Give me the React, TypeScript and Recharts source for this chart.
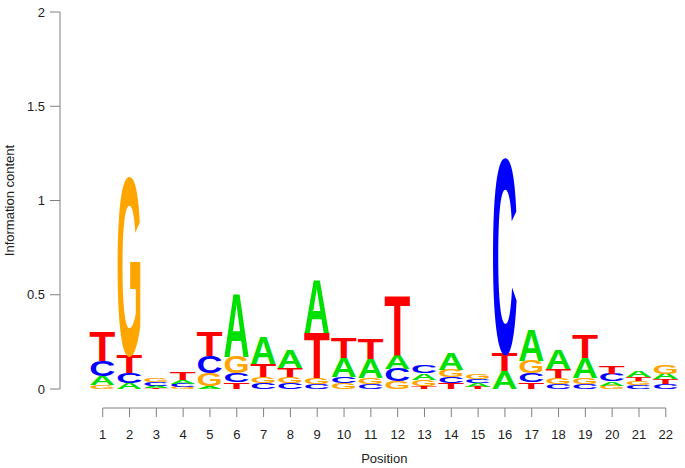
import React from 'react';
import { BarChart, Bar, XAxis, YAxis, ReferenceLine } from 'recharts';

// Sequence logo – information content per position (bits)
const positions = [1, 2, 3, 4, 5, 6, 7, 8, 9, 10, 11, 12, 13, 14, 15, 16, 17, 18, 19, 20, 21, 22];
const heightA = [0.05, 0.03, 0.012, 0.02, 0.015, 0.335, 0.14, 0.095, 0.28, 0.1, 0.1, 0.075, 0.035, 0.088, 0.02, 0.095, 0.16, 0.1, 0.105, 0.022, 0.03, 0.03];
const heightC = [0.08, 0.055, 0.02, 0.018, 0.09, 0.05, 0.03, 0.03, 0.028, 0.033, 0.028, 0.065, 0.04, 0.032, 0.022, 1.02, 0.05, 0.028, 0.028, 0.038, 0.02, 0.025];
const heightG = [0.02, 0.93, 0.022, 0.01, 0.07, 0.085, 0.033, 0.032, 0.03, 0.03, 0.03, 0.04, 0.033, 0.04, 0.025, 0.0, 0.065, 0.03, 0.032, 0.018, 0.021, 0.05];
const heightT = [0.155, 0.095, 0.006, 0.04, 0.13, 0.035, 0.07, 0.05, 0.24, 0.11, 0.105, 0.31, 0.015, 0.03, 0.01, 0.097, 0.035, 0.05, 0.125, 0.04, 0.022, 0.027];
const yTicks = [0, 0.5, 1, 1.5, 2];

const letterColors: Record<string, string> = {
  A: '#00e000',
  C: '#0000ff',
  G: '#ffa500',
  T: '#ff0000',
};

const X_DOMAIN: [number, number] = [-0.593, 22.53];
const CAP_HEIGHT = 0.69;
const FONT = '"Liberation Sans", Arial, Helvetica, sans-serif';

// each column: letters sorted smallest at bottom, largest on top
const data = positions.map((pos, i) => {
  const letters = [
    { l: 'A', h: heightA[i] },
    { l: 'C', h: heightC[i] },
    { l: 'G', h: heightG[i] },
    { l: 'T', h: heightT[i] },
  ].sort((a, b) => a.h - b.h);
  const row: any = { pos };
  letters.forEach((item, k) => {
    row[`s${k}`] = item.h;
    row[`l${k}`] = item.l;
  });
  return row;
});

function Letter(props: any) {
  const { x, y, width, height, payload, slot } = props;
  const letter = payload?.[`l${slot}`];
  if (!letter || !height || height <= 0) return null;
  const w = width * 1.08;
  const cx = x + width / 2;
  const sx = w / 100;
  const sy = height / (CAP_HEIGHT * 100);
  return (
    <text
      x={0}
      y={0}
      fontSize={100}
      fontFamily={FONT}
      fontWeight="bold"
      textLength={100}
      lengthAdjust="spacingAndGlyphs"
      fill={letterColors[letter]}
      transform={`translate(${cx - w / 2},${y + height}) scale(${sx},${sy})`}
    >
      {letter}
    </text>
  );
}

function PositionTick(props: any) {
  const { x, y, payload } = props;
  return (
    <g>
      <line x1={x} x2={x} y1={y + 19} y2={y + 28} stroke="#808080" strokeWidth={1} />
      <text x={x} y={y + 49.5} textAnchor="middle" fontSize={13} fontFamily={FONT} fill="#222">
        {payload.value}
      </text>
    </g>
  );
}

export default function App() {
  const axisY = -19 / 188.5;
  return (
    <div style={{ position: 'absolute', left: 0, top: 0, background: '#fff' }}>
      <BarChart
        width={685}
        height={468}
        data={data}
        margin={{ top: 12, right: 5, bottom: 9, left: 0 }}
      >
        <XAxis
          dataKey="pos"
          type="number"
          domain={X_DOMAIN}
          ticks={positions}
          interval={0}
          height={70}
          axisLine={false}
          tickLine={false}
          tickSize={0}
          tickMargin={0}
          tick={<PositionTick />}
          label={{
            content: ({ viewBox }: any) => {
              const frac = (11.5 - X_DOMAIN[0]) / (X_DOMAIN[1] - X_DOMAIN[0]);
              return (
                <text
                  x={viewBox.x + viewBox.width * frac}
                  y={viewBox.y + 74}
                  textAnchor="middle"
                  fontSize={13}
                  fontFamily={FONT}
                  fill="#222"
                >
                  Position
                </text>
              );
            },
          }}
        />
        <YAxis
          type="number"
          domain={[0, 2]}
          ticks={yTicks}
          width={60}
          tickSize={10}
          tickMargin={5}
          axisLine={{ stroke: '#808080' }}
          tickLine={{ stroke: '#808080' }}
          tick={{ fill: '#222', fontSize: 13, fontFamily: FONT }}
          label={{
            content: ({ viewBox }: any) => {
              const cx = 13.5;
              const cy = viewBox.y + viewBox.height / 2;
              return (
                <text
                  x={cx}
                  y={cy}
                  transform={`rotate(-90, ${cx}, ${cy})`}
                  textAnchor="middle"
                  fontSize={13}
                  fontFamily={FONT}
                  fill="#222"
                >
                  Information content
                </text>
              );
            },
          }}
        />
        <ReferenceLine
          segment={[{ x: 1, y: axisY }, { x: 22, y: axisY }]}
          stroke="#808080"
          strokeWidth={1}
          ifOverflow="visible"
        />
        {[0, 1, 2, 3].map((slot) => (
          <Bar
            key={slot}
            dataKey={`s${slot}`}
            stackId="logo"
            barSize={27}
            isAnimationActive={false}
            shape={(p: any) => <Letter {...p} slot={slot} />}
          />
        ))}
      </BarChart>
    </div>
  );
}
